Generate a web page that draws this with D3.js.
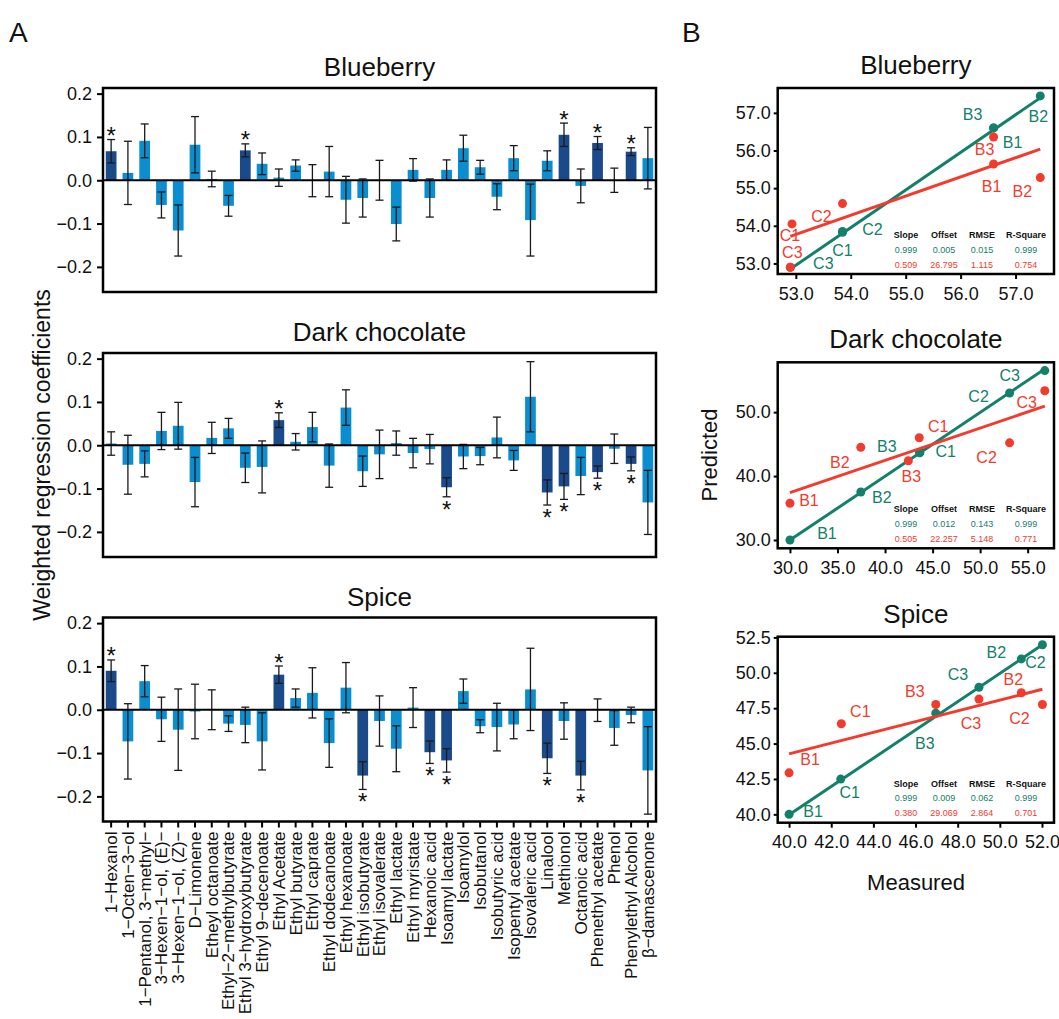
<!DOCTYPE html>
<html>
<head>
<meta charset="utf-8">
<title>Weighted regression coefficients and PLS fits</title>
<script src="https://cdn.jsdelivr.net/npm/d3@7/dist/d3.min.js"></script>
<style>
	body { margin: 0; background: #fff; }
	svg text { font-family: "Liberation Sans", Arial, sans-serif; fill: #111; }
</style>
</head>
<body>
<svg width="1059" height="1019" id="fig"></svg>
<script>

// ---- panel A data ----
var compounds = ['1−Hexanol', '1−Octen−3−ol', '1−Pentanol, 3−methyl−', '3−Hexen−1−ol, (E)−', '3−Hexen−1−ol, (Z)−',
	'D−Limonene', 'Etheyl octanoate', 'Ethyl−2−methylbutyrate', 'Ethyl 3−hydroxybutyrate', 'Ethyl 9−decenoate',
	'Ethyl Acetate', 'Ethyl butyrate', 'Ethyl caprate', 'Ethyl dodecanoate', 'Ethyl hexanoate', 'Ethyl isobutyrate',
	'Ethyl isovalerate', 'Ethyl lactate', 'Ethyl myristate', 'Hexanoic acid', 'Isoamyl lactate', 'Isoamylol',
	'Isobutanol', 'Isobutyric acid', 'Isopentyl acetate', 'Isovaleric acid', 'Linalool', 'Methionol',
	'Octanoic acid', 'Phenethyl acetate', 'Phenol', 'Phenylethyl Alcohol', 'β−damascenone']

var blueberryCoef = [0.067, 0.017, 0.091, -0.057, -0.116, 0.082, 0.003, -0.059, 0.069, 0.038, 0.006, 0.034, -0.001,
	0.020, -0.045, -0.041, 0.000, -0.101, 0.024, -0.041, 0.024, 0.074, 0.030, -0.038, 0.051, -0.092, 0.045, 0.105,
	-0.013, 0.086, 0.000, 0.066, 0.051]
var blueberryErr = [0.027, 0.073, 0.039, 0.030, 0.059, 0.065, 0.018, 0.024, 0.015, 0.025, 0.020, 0.013, 0.037,
	0.058, 0.054, 0.044, 0.046, 0.039, 0.026, 0.044, 0.023, 0.030, 0.016, 0.030, 0.029, 0.083, 0.023, 0.027,
	0.039, 0.015, 0.028, 0.009, 0.071]
var blueberrySig = ['1−Hexanol', 'Ethyl 3−hydroxybutyrate', 'Methionol', 'Phenethyl acetate', 'Phenylethyl Alcohol']

var chocolateCoef = [0.004, -0.045, -0.043, 0.033, 0.045, -0.085, 0.017, 0.039, -0.052, -0.050, 0.058, 0.008, 0.042,
	-0.047, 0.087, -0.060, -0.021, 0.005, -0.018, -0.009, -0.097, -0.026, -0.025, 0.018, -0.035, 0.112, -0.109,
	-0.095, -0.071, -0.062, -0.008, -0.043, -0.132]
var chocolateErr = [0.027, 0.068, 0.030, 0.043, 0.054, 0.057, 0.036, 0.023, 0.034, 0.060, 0.017, 0.019, 0.034,
	0.050, 0.041, 0.035, 0.056, 0.028, 0.034, 0.034, 0.022, 0.028, 0.020, 0.047, 0.023, 0.081, 0.029, 0.030,
	0.043, 0.014, 0.034, 0.016, 0.074]
var chocolateSig = ['Ethyl Acetate', 'Isoamyl lactate', 'Linalool', 'Methionol', 'Phenethyl acetate', 'Phenylethyl Alcohol']

var spiceCoef = [0.090, -0.073, 0.066, -0.022, -0.046, -0.004, 0.000, -0.032, -0.035, -0.073, 0.081, 0.027, 0.039,
	-0.077, 0.051, -0.152, -0.026, -0.090, 0.005, -0.098, -0.117, 0.043, -0.038, -0.040, -0.034, 0.047, -0.112,
	-0.026, -0.152, -0.001, -0.042, -0.012, -0.140]
var spiceErr = [0.025, 0.087, 0.036, 0.051, 0.094, 0.063, 0.046, 0.018, 0.041, 0.066, 0.020, 0.021, 0.058,
	0.056, 0.058, 0.032, 0.058, 0.053, 0.046, 0.026, 0.027, 0.028, 0.015, 0.055, 0.033, 0.095, 0.035, 0.042,
	0.033, 0.026, 0.040, 0.018, 0.101]
var spiceSig = ['1−Hexanol', 'Ethyl Acetate', 'Ethyl isobutyrate', 'Hexanoic acid', 'Isoamyl lactate', 'Linalool', 'Octanoic acid']

var coefTicks = [-0.2, -0.1, 0, 0.1, 0.2]

// ---- panel B data (teal = model 1, red = model 2) ----
var samples = ['B1', 'B2', 'B3', 'C1', 'C2', 'C3']
var statNames = ['Slope', 'Offset', 'RMSE', 'R-Square']

var blueberryMeasured1 = [56.6, 57.45, 56.6, 53.85, 53.85, 52.9]
var blueberryPredicted1 = [56.6, 57.45, 56.6, 53.83, 53.85, 52.9]
var blueberryMeasured2 = [56.6, 57.45, 56.6, 52.93, 53.85, 52.9]
var blueberryPredicted2 = [55.64, 55.28, 56.36, 54.05, 54.59, 52.9]
var blueberryStats1 = ['0.999', '0.005', '0.015', '0.999']
var blueberryStats2 = ['0.509', '26.795', '1.115', '0.754']
var blueberryTicks = [53, 54, 55, 56, 57]

var chocolateMeasured1 = [30, 37.45, 43.65, 43.65, 53.1, 56.8]
var chocolatePredicted1 = [30, 37.5, 43.65, 43.7, 53.0, 56.5]
var chocolateMeasured2 = [30, 37.45, 42.45, 43.6, 53.1, 56.8]
var chocolatePredicted2 = [35.75, 44.5, 42.4, 46.0, 45.2, 53.35]
var chocolateStats1 = ['0.999', '0.012', '0.143', '0.999']
var chocolateStats2 = ['0.505', '22.257', '5.148', '0.771']
var chocolateXTicks = [30, 35, 40, 45, 50, 55]
var chocolateYTicks = [30, 40, 50]

var spiceMeasured1 = [40, 51.02, 46.96, 42.45, 52.02, 49.01]
var spicePredicted1 = [40, 50.98, 47.15, 42.49, 51.98, 48.98]
var spiceMeasured2 = [40, 51.02, 46.96, 42.48, 52.02, 49.01]
var spicePredicted2 = [42.93, 48.59, 47.76, 46.4, 47.76, 48.14]
var spiceStats1 = ['0.999', '0.009', '0.062', '0.999']
var spiceStats2 = ['0.380', '29.069', '2.864', '0.701']
var spiceXTicks = [40, 42, 44, 46, 48, 50, 52]
var spiceYTicks = [40, 42.5, 45, 47.5, 50, 52.5]

// ---- styling / layout ----
var lightBlue = '#0b8ecf', darkBlue = '#1b4a8b'
var teal = '#12806a', red = '#f23b2d'
var svg = d3.select('#fig')
svg.append('rect').attr('width', 1059).attr('height', 1019).attr('fill', '#fff')

var boxA = {left: 103, right: 656, h: 204}
var x = d3.scaleBand().domain(compounds).range([boxA.left, boxA.right]).paddingInner(0.36).paddingOuter(0.165)

function drawCoefPanel(top, title, coef, err, sig, showLabels) {
	var y = d3.scaleLinear().domain([-0.258, 0.213]).range([top + boxA.h, top])
	var g = svg.append('g')
	var rows = compounds.map(function(c, i) { return {name: c, v: coef[i], e: err[i], sig: sig.indexOf(c) >= 0} })

	g.append('text')
		.attr('x', (boxA.left + boxA.right) / 2).attr('y', top - 12)
		.attr('text-anchor', 'middle').style('font-size', '26px')
		.text(title)

	g.selectAll('.bar').data(rows).enter().append('rect')
		.attr('x', function(d) { return x(d.name) })
		.attr('width', x.bandwidth())
		.attr('y', function(d) { return y(Math.max(0, d.v)) })
		.attr('height', function(d) { return Math.abs(y(d.v) - y(0)) })
		.attr('fill', function(d) { return d.sig ? darkBlue : lightBlue })

	var cx = function(d) { return x(d.name) + x.bandwidth() / 2 }
	var eb = g.selectAll('.eb').data(rows).enter().append('g').attr('stroke', '#1a1a1a').attr('stroke-width', 1.3)
	eb.append('line').attr('x1', cx).attr('x2', cx)
		.attr('y1', function(d) { return y(d.v + d.e) }).attr('y2', function(d) { return y(d.v - d.e) })
	eb.append('line').attr('x1', function(d) { return cx(d) - 4 }).attr('x2', function(d) { return cx(d) + 4 })
		.attr('y1', function(d) { return y(d.v + d.e) }).attr('y2', function(d) { return y(d.v + d.e) })
	eb.append('line').attr('x1', function(d) { return cx(d) - 4 }).attr('x2', function(d) { return cx(d) + 4 })
		.attr('y1', function(d) { return y(d.v - d.e) }).attr('y2', function(d) { return y(d.v - d.e) })

	g.selectAll('.star').data(rows.filter(function(d) { return d.sig })).enter().append('text')
		.attr('x', cx)
		.attr('y', function(d) { return d.v >= 0 ? y(d.v + d.e) + 4.5 : y(d.v - d.e) + 21 })
		.attr('text-anchor', 'middle').style('font-size', '24px')
		.text('*')

	// zero line
	g.append('line').attr('x1', boxA.left).attr('x2', boxA.right).attr('y1', y(0)).attr('y2', y(0))
		.attr('stroke', '#000').attr('stroke-width', 2)

	var ya = g.append('g').attr('transform', 'translate(' + boxA.left + ',0)')
		.call(d3.axisLeft(y).tickValues(coefTicks).tickFormat(d3.format('.1f')).tickSize(6).tickPadding(5))
	ya.select('.domain').remove()
	ya.selectAll('line').attr('stroke-width', 2)
	ya.selectAll('text').style('font-size', '18px')

	if (showLabels) {
		var xa = g.append('g').attr('transform', 'translate(0,' + (top + boxA.h) + ')')
			.call(d3.axisBottom(x).tickSize(6))
		xa.select('.domain').remove()
		xa.selectAll('line').attr('stroke-width', 2)
		xa.selectAll('text')
			.attr('transform', 'rotate(-90)')
			.attr('x', -10).attr('y', 0).attr('dy', '0.35em')
			.style('text-anchor', 'end').style('font-size', '17px')
	}

	g.append('rect').attr('x', boxA.left).attr('y', top).attr('width', boxA.right - boxA.left).attr('height', boxA.h)
		.attr('fill', 'none').attr('stroke', '#000').attr('stroke-width', 2.5)
}

drawCoefPanel(88, 'Blueberry', blueberryCoef, blueberryErr, blueberrySig, false)
drawCoefPanel(353, 'Dark chocolate', chocolateCoef, chocolateErr, chocolateSig, false)
drawCoefPanel(617.5, 'Spice', spiceCoef, spiceErr, spiceSig, true)

svg.append('text').attr('transform', 'translate(50,455) rotate(-90)')
	.attr('text-anchor', 'middle').style('font-size', '23px')
	.text('Weighted regression coefficients')

// point-label nudges in px, per panel, series, sample
var nudge = {
	blueberry: [[[19, 15], [-2, 21], [-21, -13], [0, 18], [30, -2], [33, -4]],
		[[-2, 22], [-18, 14], [-9, 13], [-2, 12], [-21, 13], [2, -15]]],
	chocolate: [[[37, -6], [21, 5], [-33, -6], [26, -1], [-31, 4], [-35, 5]],
		[[19, -3], [-21, 15], [3, 16], [19, -11], [-23, 15], [-18, 12]]],
	spice: [[[24, -3], [-25, -6], [-11, 30], [9, 13], [-7, 18], [-21, -13]],
		[[21, -13], [-8, -13], [-21, -13], [19, -12], [-23, 14], [-8, 24]]]
}

var boxB = {left: 777.7, right: 1054, h: 186}
var statCols = [906, 944, 982, 1026]

function drawFitPanel(p) {
	var xs = d3.scaleLinear().domain(p.xDomain).range([boxB.left, boxB.right])
	var ys = d3.scaleLinear().domain(p.yDomain).range([p.top + boxB.h, p.top])
	var g = svg.append('g')
	var bottom = p.top + boxB.h

	g.append('text')
		.attr('x', (boxB.left + boxB.right) / 2).attr('y', p.top - 14)
		.attr('text-anchor', 'middle').style('font-size', '26px')
		.text(p.title)

	var xa = g.append('g').attr('transform', 'translate(0,' + bottom + ')')
		.call(d3.axisBottom(xs).tickValues(p.xTicks).tickFormat(d3.format('.1f')).tickSize(5).tickPadding(8))
	var ya = g.append('g').attr('transform', 'translate(' + boxB.left + ',0)')
		.call(d3.axisLeft(ys).tickValues(p.yTicks).tickFormat(d3.format('.1f')).tickSize(4).tickPadding(3))
	;[xa, ya].forEach(function(a) {
		a.select('.domain').remove()
		a.selectAll('line').attr('stroke-width', 2)
		a.selectAll('text').style('font-size', '18px')
	})

	p.series.forEach(function(s, si) {
		var pts = samples.map(function(n, i) { return {name: n, mx: s.measured[i], pr: s.predicted[i], nd: p.nudge[si][i]} })
		var x0 = d3.min(s.measured), x1 = d3.max(s.measured)
		var slope = +s.stats[0], offset = +s.stats[1]
		g.append('line')
			.attr('x1', xs(x0)).attr('y1', ys(slope * x0 + offset))
			.attr('x2', xs(x1)).attr('y2', ys(slope * x1 + offset))
			.attr('stroke', s.color).attr('stroke-width', 3)
		g.selectAll('.pt' + si).data(pts).enter().append('circle')
			.attr('cx', function(d) { return xs(d.mx) })
			.attr('cy', function(d) { return ys(d.pr) })
			.attr('r', 4.5).attr('fill', s.color)
		g.selectAll('.lb' + si).data(pts).enter().append('text')
			.attr('x', function(d) { return xs(d.mx) + d.nd[0] })
			.attr('y', function(d) { return ys(d.pr) + d.nd[1] })
			.attr('text-anchor', 'middle').attr('dominant-baseline', 'central')
			.style('font-size', '16px').style('fill', s.color)
			.text(function(d) { return d.name })
	})

	// stats table
	g.selectAll('.hd').data(statNames).enter().append('text')
		.attr('x', function(d, i) { return statCols[i] }).attr('y', bottom - 39)
		.attr('text-anchor', 'middle').attr('dominant-baseline', 'central')
		.style('font-size', '9px').style('font-weight', 'bold')
		.text(function(d) { return d })
	p.series.forEach(function(s, si) {
		g.selectAll('.st' + si).data(s.stats).enter().append('text')
			.attr('x', function(d, i) { return statCols[i] }).attr('y', bottom - 24.5 + si * 15)
			.attr('text-anchor', 'middle').attr('dominant-baseline', 'central')
			.style('font-size', '9px').style('fill', s.color)
			.text(function(d) { return d })
	})

	g.append('rect').attr('x', boxB.left).attr('y', p.top).attr('width', boxB.right - boxB.left).attr('height', boxB.h)
		.attr('fill', 'none').attr('stroke', '#000').attr('stroke-width', 2.5)
}

drawFitPanel({
	title: 'Blueberry', top: 88, xDomain: [52.67, 57.7], yDomain: [52.72, 57.66],
	xTicks: blueberryTicks, yTicks: blueberryTicks, nudge: nudge.blueberry,
	series: [
		{measured: blueberryMeasured1, predicted: blueberryPredicted1, stats: blueberryStats1, color: teal},
		{measured: blueberryMeasured2, predicted: blueberryPredicted2, stats: blueberryStats2, color: red}
	]
})
drawFitPanel({
	title: 'Dark chocolate', top: 362.3, xDomain: [28.71, 57.77], yDomain: [28.7, 57.8],
	xTicks: chocolateXTicks, yTicks: chocolateYTicks, nudge: nudge.chocolate,
	series: [
		{measured: chocolateMeasured1, predicted: chocolatePredicted1, stats: chocolateStats1, color: teal},
		{measured: chocolateMeasured2, predicted: chocolatePredicted2, stats: chocolateStats2, color: red}
	]
})
drawFitPanel({
	title: 'Spice', top: 636.7, xDomain: [39.46, 52.57], yDomain: [39.41, 52.55],
	xTicks: spiceXTicks, yTicks: spiceYTicks, nudge: nudge.spice,
	series: [
		{measured: spiceMeasured1, predicted: spicePredicted1, stats: spiceStats1, color: teal},
		{measured: spiceMeasured2, predicted: spicePredicted2, stats: spiceStats2, color: red}
	]
})

svg.append('text').attr('transform', 'translate(717,455) rotate(-90)')
	.attr('text-anchor', 'middle').style('font-size', '22px')
	.text('Predicted')
svg.append('text').attr('x', 916).attr('y', 890)
	.attr('text-anchor', 'middle').style('font-size', '22px')
	.text('Measured')

svg.append('text').attr('x', 9).attr('y', 42).style('font-size', '28px').text('A')
svg.append('text').attr('x', 682).attr('y', 42).style('font-size', '28px').text('B')

</script>
</body>
</html>
